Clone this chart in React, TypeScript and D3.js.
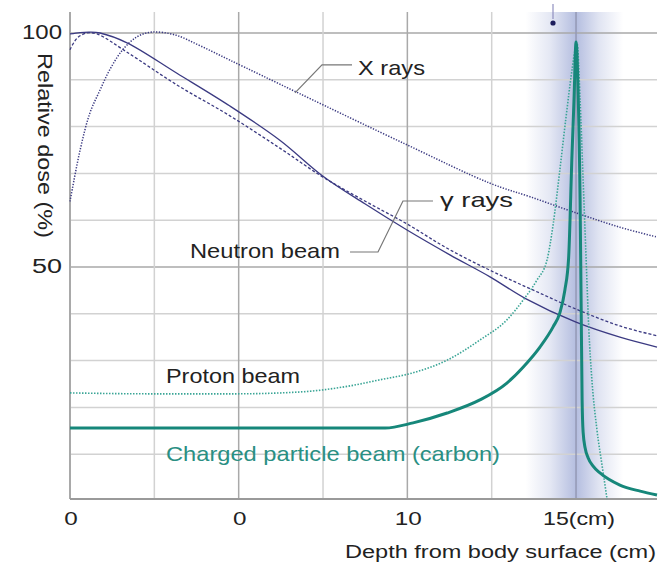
import React from 'react';
import * as d3 from 'd3';

const W = 664;
const H = 565;

// Axis definitions
const depthTicks = [0, 5, 10, 15];
const depthTickLabels = ['0', '0', '10', '15(cm)'];
const depthGrid = [0, 2.5, 5, 7.5, 10, 12.5, 15];
const depthMajor = [0, 5, 10, 15];
const doseGrid = [10, 20, 30, 40, 50, 60, 70, 80, 90, 100];
const doseMajor = [50, 100];
const doseTicks = [100, 50];

// Series: [depth cm, relative dose %]
const xRays: [number, number][] = [
  [0, 64.0], [0.3, 75.0], [0.59, 82.9], [0.89, 87.8], [1.19, 92.3], [1.57, 96.5],
  [1.99, 99.2], [2.43, 100.2], [3.11, 99.6], [3.85, 97.3], [4.74, 94.2], [6.82, 87.0],
  [9.99, 76.1], [12.45, 67.9], [13.64, 65.0], [15.03, 61.5], [16.3, 58.5], [17.4, 56.4],
];
const neutronBeam: [number, number][] = [
  [0, 99.8], [0.3, 100.1], [0.59, 100.2], [0.89, 100.0], [1.69, 97.9], [3.17, 91.4],
  [4.74, 84.4], [6.22, 77.1], [7.5, 69.4], [8.74, 63.5], [9.99, 57.9], [11.26, 52.6],
  [12.45, 47.9], [13.49, 43.3], [15.0, 38.2], [16.3, 35.0], [17.4, 32.9],
];
const gammaRays: [number, number][] = [
  [0, 96.4], [0.21, 98.9], [0.5, 100.0], [0.8, 99.8], [1.69, 95.9], [3.17, 88.9],
  [4.74, 82.3], [6.22, 75.4], [7.5, 69.2], [8.74, 64.1], [9.99, 59.2], [11.18, 54.0],
  [12.45, 49.3], [13.72, 45.1], [15.0, 41.0], [16.3, 37.4], [17.4, 35.3],
];
const protonBeam: [number, number][] = [
  [0, 23.1], [2.37, 22.9], [4.92, 22.9], [6.82, 23.3], [8.3, 24.6], [9.19, 25.9],
  [10.17, 27.4], [11.18, 30.1], [12.15, 34.4], [12.95, 38.7], [13.43, 42.9], [13.84, 47.2],
  [14.14, 51.5], [14.32, 59.0], [14.52, 70.7], [14.7, 81.8], [14.88, 92.1], [14.97, 96.4],
  [15.03, 97.9], [15.12, 85.7], [15.21, 68.6], [15.3, 51.5], [15.38, 36.5], [15.47, 25.9],
  [15.62, 15.2], [15.77, 7.7], [15.92, 0.4],
];
const carbonBeam: [number, number][] = [
  [0, 15.6], [9.34, 15.6], [10.17, 16.7], [11.18, 18.8], [12.15, 21.6], [12.95, 25.2],
  [13.43, 28.6], [13.93, 32.9], [14.32, 37.2], [14.52, 40.2], [14.67, 45.1], [14.78, 51.9],
  [14.88, 73.9], [14.94, 85.7], [15.0, 98.1], [15.06, 87.8], [15.12, 64.3], [15.15, 42.9],
  [15.18, 21.6], [15.21, 14.7], [15.27, 11.3], [15.36, 9.2], [15.5, 7.5], [15.71, 6.0],
  [16.3, 3.4], [16.9, 2.1], [17.4, 1.3],
];

// Annotation leader lines (data units)
const xRayLeader: [number, number][] = [[8.36, 93.2], [7.47, 93.2], [6.67, 87.2]];
const gammaNeutronLeader: [number, number][] = [[8.3, 53.2], [9.13, 53.2], [9.87, 64.1], [10.76, 64.1]];

const NAVY = '#3b3a82';
const TEAL = '#16877a';
const TEAL_LIGHT = '#3aa596';
const TEXT = '#222';
const FONT = '"Liberation Sans", Arial, Helvetica, sans-serif';

export default function App() {
  const x = d3.scaleLinear().domain([0, 17.4]).range([70, 657]);
  const y = d3.scaleLinear().domain([0, 100]).range([501, 33]);
  const top = 12;
  const bottom = 499;
  const left = x(0);
  const right = x(17.4);

  const smooth = d3
    .line<[number, number]>()
    .x((d) => x(d[0]))
    .y((d) => y(d[1]))
    .curve(d3.curveCatmullRom.alpha(0.5));
  const mono = d3
    .line<[number, number]>()
    .x((d) => x(d[0]))
    .y((d) => y(d[1]))
    .curve(d3.curveMonotoneX);
  const straight = d3
    .line<[number, number]>()
    .x((d) => x(d[0]))
    .y((d) => y(d[1]));

  const bandL = x(13.5);
  const bandR = x(16.4);
  const center = x(15);

  return (
    <svg
      width={W}
      height={H}
      style={{ position: 'absolute', left: 0, top: 0, display: 'block', background: '#fff' }}
      fontFamily={FONT}
    >
      <defs>
        <linearGradient id="band" x1="0" x2="1" y1="0" y2="0">
          <stop offset="0" stopColor="#a7b2da" stopOpacity={0} />
          <stop offset="0.25" stopColor="#a7b2da" stopOpacity={0.3} />
          <stop offset={(center - bandL) / (bandR - bandL)} stopColor="#a7b2da" stopOpacity={0.85} />
          <stop offset="0.75" stopColor="#a7b2da" stopOpacity={0.35} />
          <stop offset="1" stopColor="#a7b2da" stopOpacity={0} />
        </linearGradient>
      </defs>
      <rect x={0} y={0} width={W} height={H} fill="#fff" />

      {/* band */}
      <rect x={bandL} y={top} width={bandR - bandL} height={bottom - top} fill="url(#band)" />

      {/* grid */}
      {doseGrid.map((v) => (
        <line
          key={'h' + v}
          x1={left}
          x2={right}
          y1={y(v)}
          y2={y(v)}
          stroke={doseMajor.includes(v) ? '#a9a9a9' : '#d2d2d2'}
          strokeWidth={1.5}
        />
      ))}
      {depthGrid.map((v) => (
        <line
          key={'v' + v}
          x1={x(v)}
          x2={x(v)}
          y1={top}
          y2={bottom}
          stroke={v === 15 ? '#9499b5' : depthMajor.includes(v) ? '#a9a9a9' : '#d2d2d2'}
          strokeWidth={v === 0 ? 2 : 1.5}
        />
      ))}
      <line x1={left} x2={right} y1={bottom} y2={bottom} stroke="#9a9a9a" strokeWidth={2} />

      {/* marker dot */}
      <line x1={553} x2={553} y1={4} y2={19} stroke="#8f8fc0" strokeWidth={1.2} />
      <circle cx={553} cy={23} r={2.6} fill="#1d1d5c" />

      {/* curves */}
      <path d={smooth(xRays) || ''} fill="none" stroke={NAVY} strokeWidth={1.5} strokeDasharray="1.3 1.5" />
      <path d={smooth(neutronBeam) || ''} fill="none" stroke={NAVY} strokeWidth={1.3} />
      <path d={smooth(gammaRays) || ''} fill="none" stroke={NAVY} strokeWidth={1.3} strokeDasharray="3 2" />
      <path d={mono(protonBeam) || ''} fill="none" stroke={TEAL_LIGHT} strokeWidth={1.6} strokeDasharray="1.5 1.5" />
      <path d={mono(carbonBeam) || ''} fill="none" stroke={TEAL} strokeWidth={3} strokeLinejoin="round" />

      {/* leaders */}
      <path d={straight(xRayLeader) || ''} fill="none" stroke="#777" strokeWidth={1.2} />
      <path d={straight(gammaNeutronLeader) || ''} fill="none" stroke="#777" strokeWidth={1.2} />

      {/* labels */}
      <text x={358} y={75} fontSize={21} fill={TEXT} textLength={67} lengthAdjust="spacingAndGlyphs">X rays</text>
      <text x={440} y={207} fontSize={21} fill={TEXT} textLength={73} lengthAdjust="spacingAndGlyphs">γ  rays</text>
      <text x={190} y={258} fontSize={21} fill={TEXT} textLength={150} lengthAdjust="spacingAndGlyphs">Neutron beam</text>
      <text x={166} y={383} fontSize={21} fill={TEXT} textLength={134} lengthAdjust="spacingAndGlyphs">Proton beam</text>
      <text x={166} y={461} fontSize={21} fill="#2a8f83" textLength={334} lengthAdjust="spacingAndGlyphs">
        Charged particle beam (carbon)
      </text>

      {/* y ticks */}
      {doseTicks.map((v) => (
        <text
          key={'yt' + v}
          x={62}
          y={y(v) + 6}
          fontSize={20}
          fill={TEXT}
          textAnchor="end"
          textLength={v === 100 ? 40 : 30}
          lengthAdjust="spacingAndGlyphs"
        >
          {String(v)}
        </text>
      ))}
      <text
        transform="translate(38,53) rotate(90)"
        fontSize={21}
        fill={TEXT}
        textLength={185}
        lengthAdjust="spacingAndGlyphs"
      >
        Relative dose (%)
      </text>

      {/* x ticks */}
      {depthTicks.map((v, i) => (
        <text
          key={'xt' + v}
          x={i === 3 ? x(v) + 3 : x(v) + 1}
          y={525}
          fontSize={19}
          fill={TEXT}
          textAnchor="middle"
          textLength={i === 3 ? 72 : depthTickLabels[i].length * 13.5}
          lengthAdjust="spacingAndGlyphs"
        >
          {depthTickLabels[i]}
        </text>
      ))}
      <text
        x={656}
        y={558}
        fontSize={18}
        fill={TEXT}
        textAnchor="end"
        textLength={311}
        lengthAdjust="spacingAndGlyphs"
      >
        Depth from body surface (cm)
      </text>
    </svg>
  );
}
